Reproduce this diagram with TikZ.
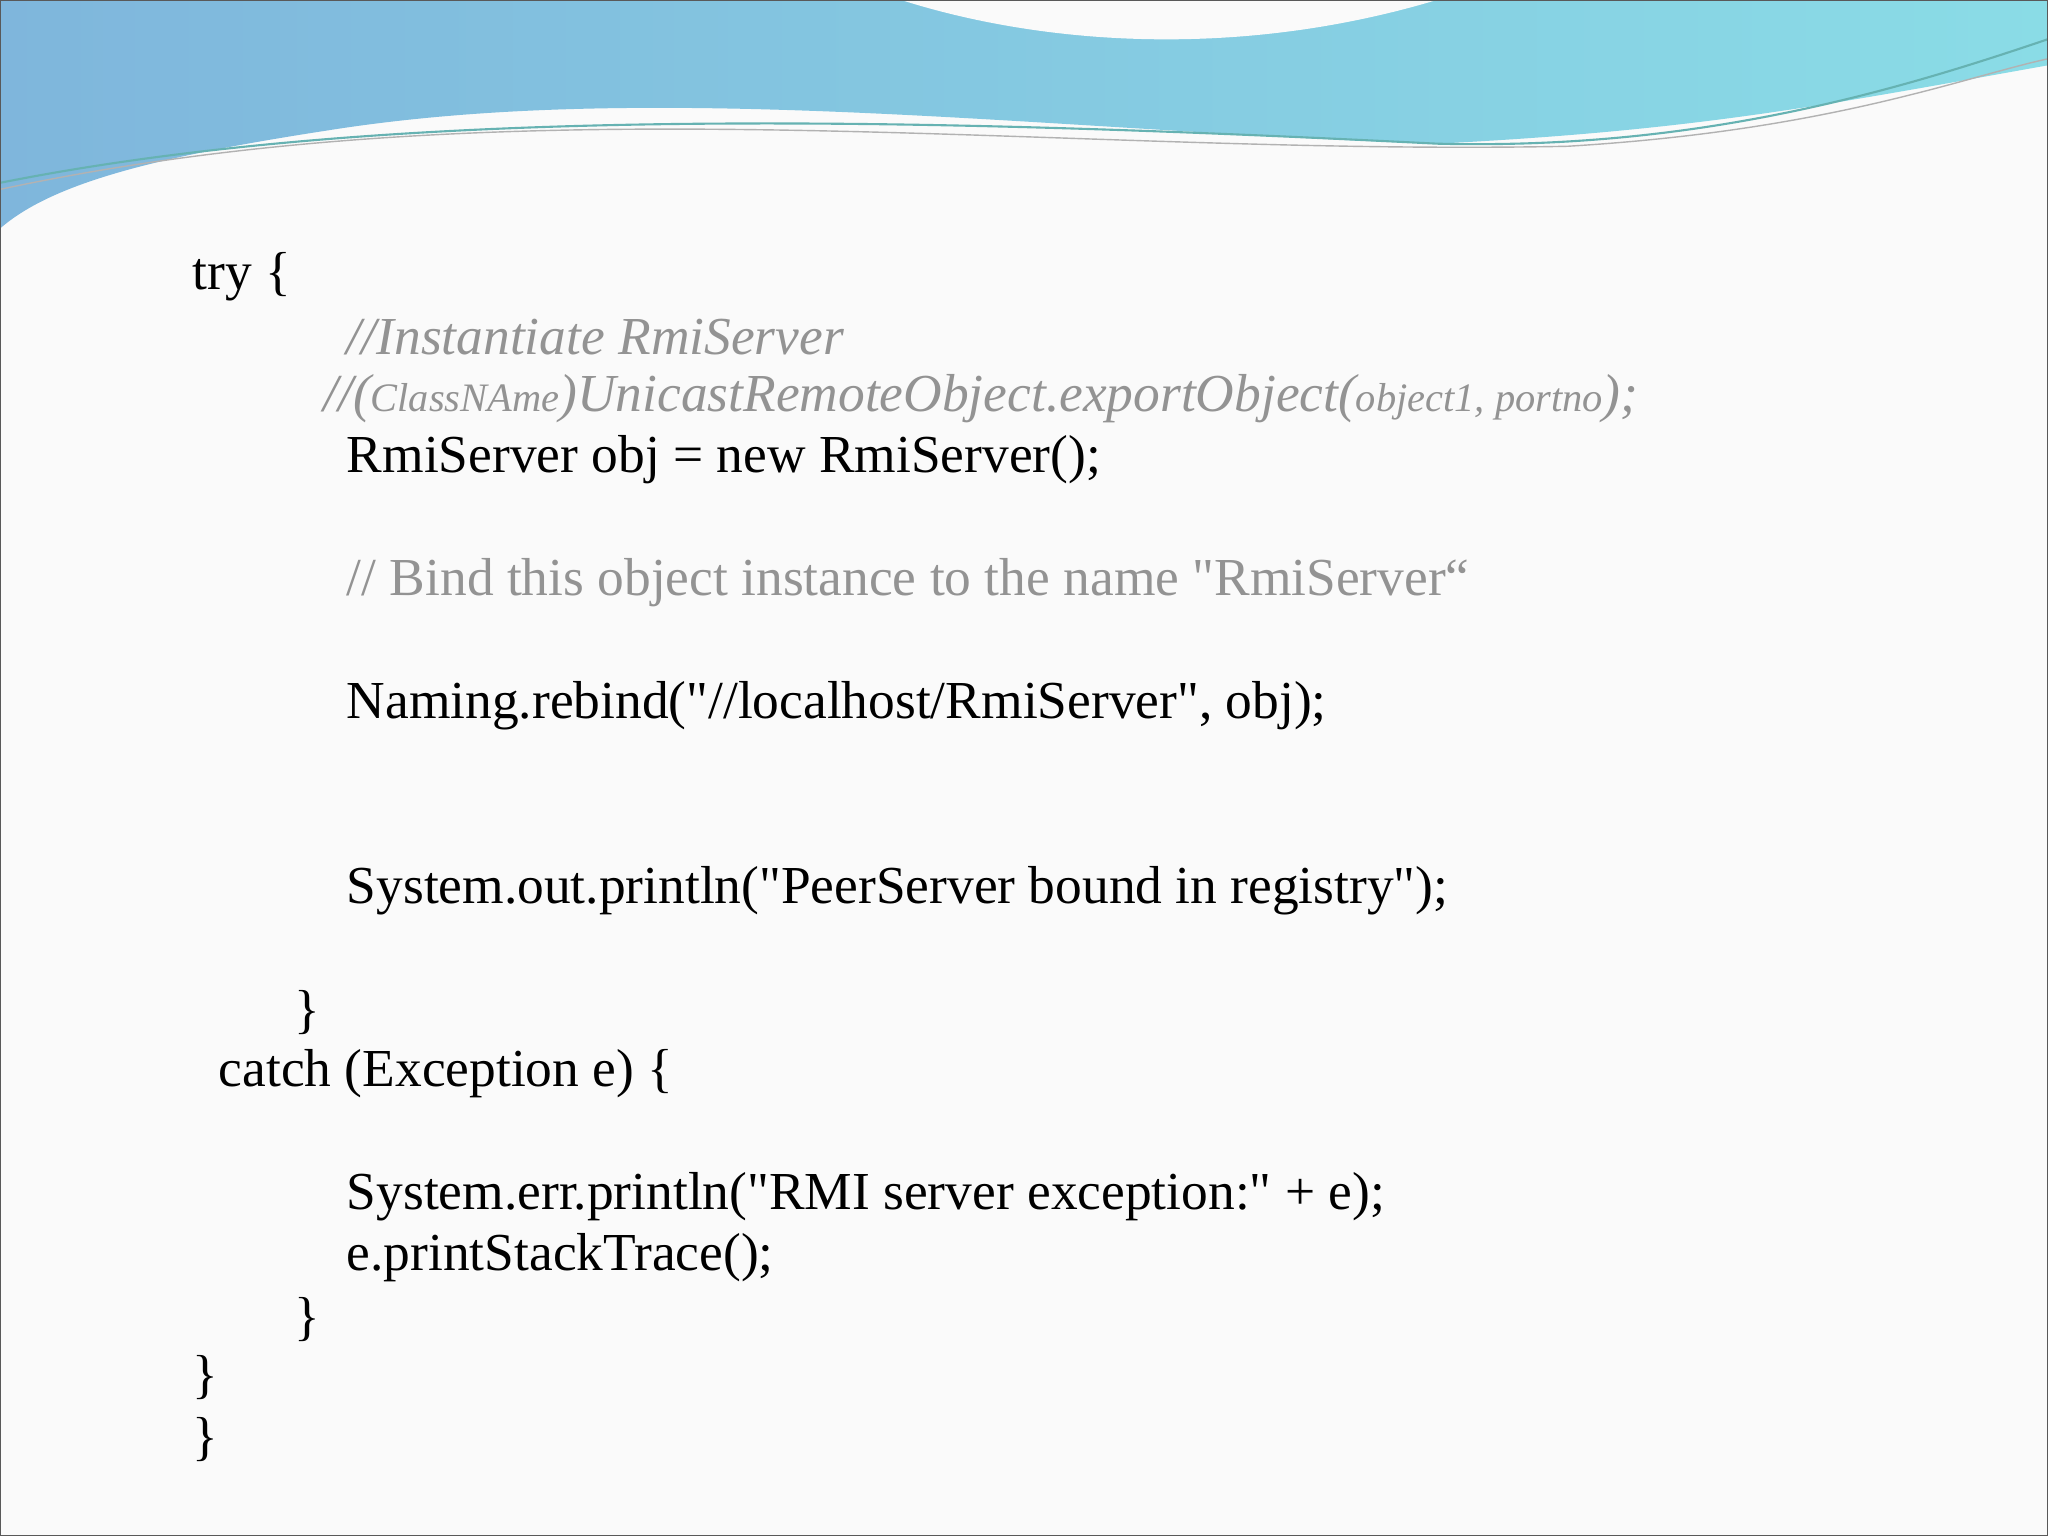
\documentclass[tikz,border=0pt]{standalone}
\usepackage{fontspec}
\setmainfont{Liberation Serif}[Ligatures=TeXOff]
\begin{document}
\begin{tikzpicture}[x=0.013061cm,y=-0.013061cm,
 code/.style={anchor=west,inner sep=0pt,font=\fontsize{15.2}{18}\selectfont,text=black},
 cmt/.style={code,text=gray!85,font=\fontsize{15.2}{18}\selectfont\itshape},
 cmtr/.style={code,text=gray!85}]
\definecolor{wblue}{HTML}{7FB6DC}\definecolor{wcyan}{HTML}{8ADCE6}
\fill[gray!4] (0,0) rectangle (1568,1176);
\useasboundingbox (0,0) rectangle (1568,1176);
\shade[left color=wblue,right color=wcyan] (0,0) -- (1568,0) -- (1568,50)
  .. controls (1400,80) and (1300,100) .. (1100,110)
  .. controls (800,100) and (500,60) .. (250,100)
  .. controls (120,120) and (40,140) .. (0,175) -- cycle;
\fill[gray!4] (690,0) .. controls (800,35) and (950,45) .. (1100,0) -- cycle;
\draw[teal!60,line width=0.6pt] (0,140) .. controls (300,80) and (700,90) .. (1100,110) .. controls (1300,115) and (1450,70) .. (1568,30);
\draw[gray!60,line width=0.4pt] (0,145) .. controls (400,60) and (800,120) .. (1200,112) .. controls (1400,100) and (1500,60) .. (1568,45);
\draw[gray!70!black,line width=0.8pt] (0,0) rectangle (1568,1176);
\node[code] (l1) at (147,212) {try \{};
\node[cmt] (l2) at (265,258) {//Instantiate RmiServer};
\node[cmt] (l3) at (247,305) {//({\fontsize{11.5}{14}\selectfont ClassNAme})UnicastRemoteObject.exportObject({\fontsize{11.5}{14}\selectfont object1, portno});};
\node[code] (l4) at (265,352) {RmiServer obj = new RmiServer();};
\node[cmtr] (l5) at (265,446) {// Bind this object instance to the name "RmiServer“};
\node[code] (l6) at (265,540) {Naming.rebind("//localhost/RmiServer", obj);};
\node[code] (l7) at (265,682) {System.out.println("PeerServer bound in registry");};
\node[code] (l8) at (225,775) {\}};
\node[code] (l9) at (167,822) {catch (Exception e) \{};
\node[code] (l10) at (265,916) {System.err.println("RMI server exception:" + e);};
\node[code] (l11) at (265,963) {e.printStackTrace();};
\node[code] (l12) at (225,1010) {\}};
\node[code] (l13) at (147,1055) {\}};
\node[code] (l14) at (147,1102) {\}};
\end{tikzpicture}
\end{document}
